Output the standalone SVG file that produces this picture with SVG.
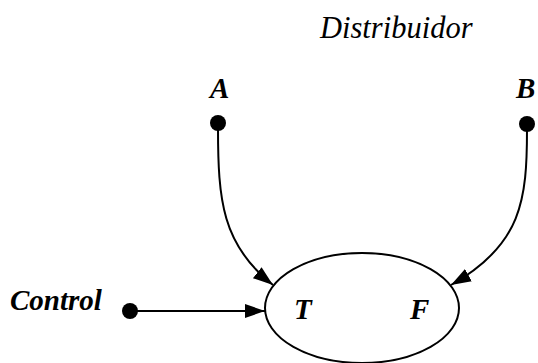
<svg xmlns="http://www.w3.org/2000/svg" width="538" height="363" viewBox="0 0 538 363">
<style>
.lbl{font-family:"Liberation Serif","Times New Roman",serif;font-style:italic;font-weight:bold;font-size:29px;fill:#000}
.title{font-family:"Liberation Serif","Times New Roman",serif;font-style:italic;font-size:30.5px;fill:#000}
.edge{fill:none;stroke:#000;stroke-width:2}
</style>
<defs>
<marker id="arr" viewBox="0 0 10 10" refX="10" refY="5" markerWidth="20" markerHeight="20" markerUnits="userSpaceOnUse" orient="auto">
<path d="M0,1.5 L10,5 L0,8.5 Z" fill="#000"/>
</marker>
</defs>
<rect width="538" height="363" fill="#fff"/>
<text class="title" x="320" y="38">Distribuidor</text>
<g id="A"><text class="lbl" x="210" y="98">A</text><circle cx="218" cy="123" r="8" fill="#000"/></g>
<g id="B"><text class="lbl" x="516" y="98">B</text><circle cx="527" cy="124" r="8" fill="#000"/></g>
<g id="Control"><text class="lbl" x="10" y="310">Control</text><circle cx="130" cy="311" r="8" fill="#000"/></g>
<g id="Dist"><ellipse cx="362" cy="308" rx="97" ry="55" fill="none" stroke="#000" stroke-width="2"/>
<text class="lbl" x="294" y="319">T</text><text class="lbl" x="410" y="319">F</text></g>
<g id="edges">
<path class="edge" d="M218,128 C218,200 222,245 273,285" marker-end="url(#arr)"/>
<path class="edge" d="M527,129 C527,200 522,245 451,285" marker-end="url(#arr)"/>
<path class="edge" d="M134,311 L265,311" marker-end="url(#arr)"/>
</g>
</svg>
